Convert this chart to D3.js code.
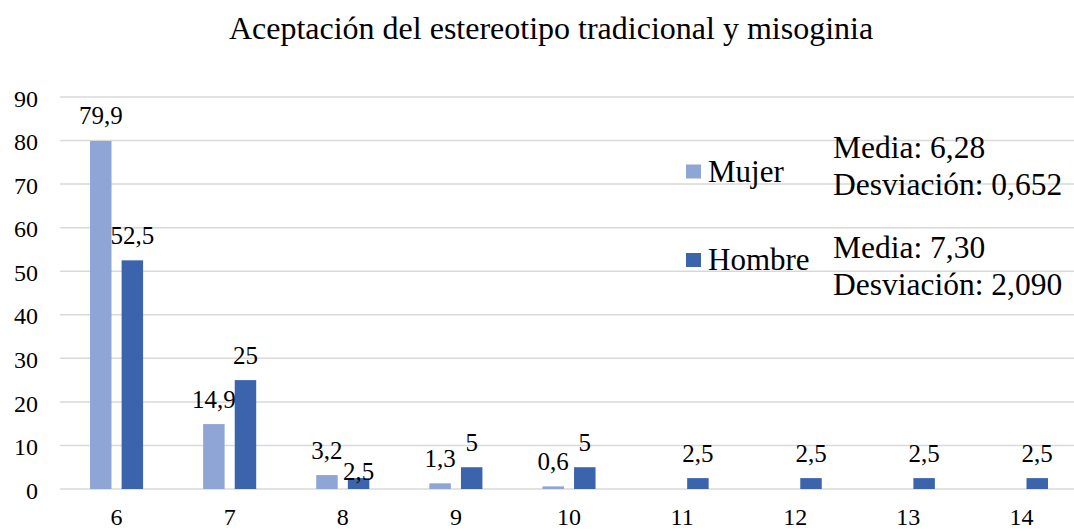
<!DOCTYPE html>
<head>
    <meta charset="utf-8">
    <script src="https://d3js.org/d3.v7.min.js"></script>
</head>
<body style="margin:0;background:#fff;">
<script>
    // chart values
    var categories = ["6", "7", "8", "9", "10", "11", "12", "13", "14"];
    var mujer  = [79.9, 14.9, 3.2, 1.3, 0.6, null, null, null, null];
    var hombre = [52.5, 25, 2.5, 5, 5, 2.5, 2.5, 2.5, 2.5];
    var yTicks = [0, 10, 20, 30, 40, 50, 60, 70, 80, 90];
    var seriesNames = ["Mujer", "Hombre"];
    var statsMujer = ["Media: 6,28", "Desviación: 0,652"];
    var statsHombre = ["Media: 7,30", "Desviación: 2,090"];
    var title = "Aceptación del estereotipo tradicional y misoginia";

    var colors = {Mujer: "#8fa5d5", Hombre: "#3c64ad"};
    var FONT = "'Liberation Serif', 'DejaVu Serif', serif";

    var width = 1074, height = 531;
    var plot = {left: 60, right: 1078, top: 97, bottom: 489};

    var svg = d3.select("body").append("svg")
        .attr("width", width)
        .attr("height", height)
        .attr("font-family", FONT);

    var x = d3.scaleBand().domain(categories).range([plot.left, plot.right]);
    var xs = d3.scaleBand().domain(seriesNames).range([0, x.bandwidth()])
        .paddingOuter(0.95).paddingInner(0.32);
    var y = d3.scaleLinear().domain([0, 90]).range([plot.bottom, plot.top]);

    // gridlines
    svg.append("g").selectAll("line")
        .data(yTicks)
        .enter().append("line")
        .attr("x1", plot.left).attr("x2", plot.right)
        .attr("y1", function(d) { return y(d); })
        .attr("y2", function(d) { return y(d); })
        .attr("stroke", "#d9d9d9")
        .attr("stroke-width", 1.5);

    // y axis labels
    var yAxis = svg.append("g")
        .attr("transform", "translate(" + (plot.left - 22) + ",1.5)")
        .call(d3.axisLeft(y).tickValues(yTicks).tickSize(0).tickPadding(0));
    yAxis.select(".domain").remove();
    yAxis.attr("font-family", FONT).attr("font-size", 24);
    yAxis.selectAll("text").attr("fill", "#000");

    // x axis labels
    var xAxis = svg.append("g")
        .attr("transform", "translate(0," + (plot.bottom + 19) + ")")
        .call(d3.axisBottom(x).tickSize(0).tickPadding(0));
    xAxis.select(".domain").remove();
    xAxis.attr("font-family", FONT).attr("font-size", 24);
    xAxis.selectAll("text").attr("fill", "#000");

    // bars
    var rows = [];
    categories.forEach(function(c, i) {
        rows.push({cat: c, s: "Mujer", v: mujer[i]});
        rows.push({cat: c, s: "Hombre", v: hombre[i]});
    });
    rows = rows.filter(function(d) { return d.v !== null; });

    svg.append("g").selectAll("rect")
        .data(rows)
        .enter().append("rect")
        .attr("x", function(d) { return x(d.cat) + xs(d.s); })
        .attr("width", xs.bandwidth())
        .attr("y", function(d) { return y(d.v); })
        .attr("height", function(d) { return y(0) - y(d.v); })
        .attr("fill", function(d) { return colors[d.s]; });

    // data labels
    var labels = svg.append("g").selectAll("text")
        .data(rows)
        .enter().append("text")
        .attr("x", function(d) { return x(d.cat) + xs(d.s) + xs.bandwidth() / 2; })
        .attr("y", function(d) { return y(d.v) - 16.5; })
        .attr("text-anchor", "middle")
        .attr("font-size", 25)
        .text(function(d) { return String(d.v).replace(".", ","); });

    // push a label down when it crowds its neighbour (like Excel does)
    var nodes = labels.nodes();
    for (var i = 1; i < nodes.length; i++) {
        var a = nodes[i - 1].getBBox(), b = nodes[i].getBBox();
        var da = d3.select(nodes[i - 1]).datum(), db = d3.select(nodes[i]).datum();
        if (da.cat === db.cat && a.x + a.width + 6 > b.x && Math.abs(a.y - b.y) < a.height) {
            d3.select(nodes[i]).attr("y", y(db.v) + 2);
        }
    }

    // title
    svg.append("text")
        .attr("x", 551).attr("y", 39)
        .attr("text-anchor", "middle")
        .attr("font-size", 32)
        .text(title);

    // legend
    var legend = svg.append("g");
    var legendY = [171.5, 260];
    seriesNames.forEach(function(s, i) {
        legend.append("rect")
            .attr("x", 686).attr("y", legendY[i] - 7)
            .attr("width", 15).attr("height", 14)
            .attr("fill", colors[s]);
        legend.append("text")
            .attr("x", 708).attr("y", legendY[i] + 10)
            .attr("font-size", 31)
            .text(s);
    });

    // stats text
    [statsMujer, statsHombre].forEach(function(lines, i) {
        var t = svg.append("text")
            .attr("x", 833).attr("y", [158, 258][i])
            .attr("font-size", 31.5);
        lines.forEach(function(l, j) {
            t.append("tspan").attr("x", 833).attr("dy", j === 0 ? 0 : 37).text(l);
        });
    });
</script>
</body>
